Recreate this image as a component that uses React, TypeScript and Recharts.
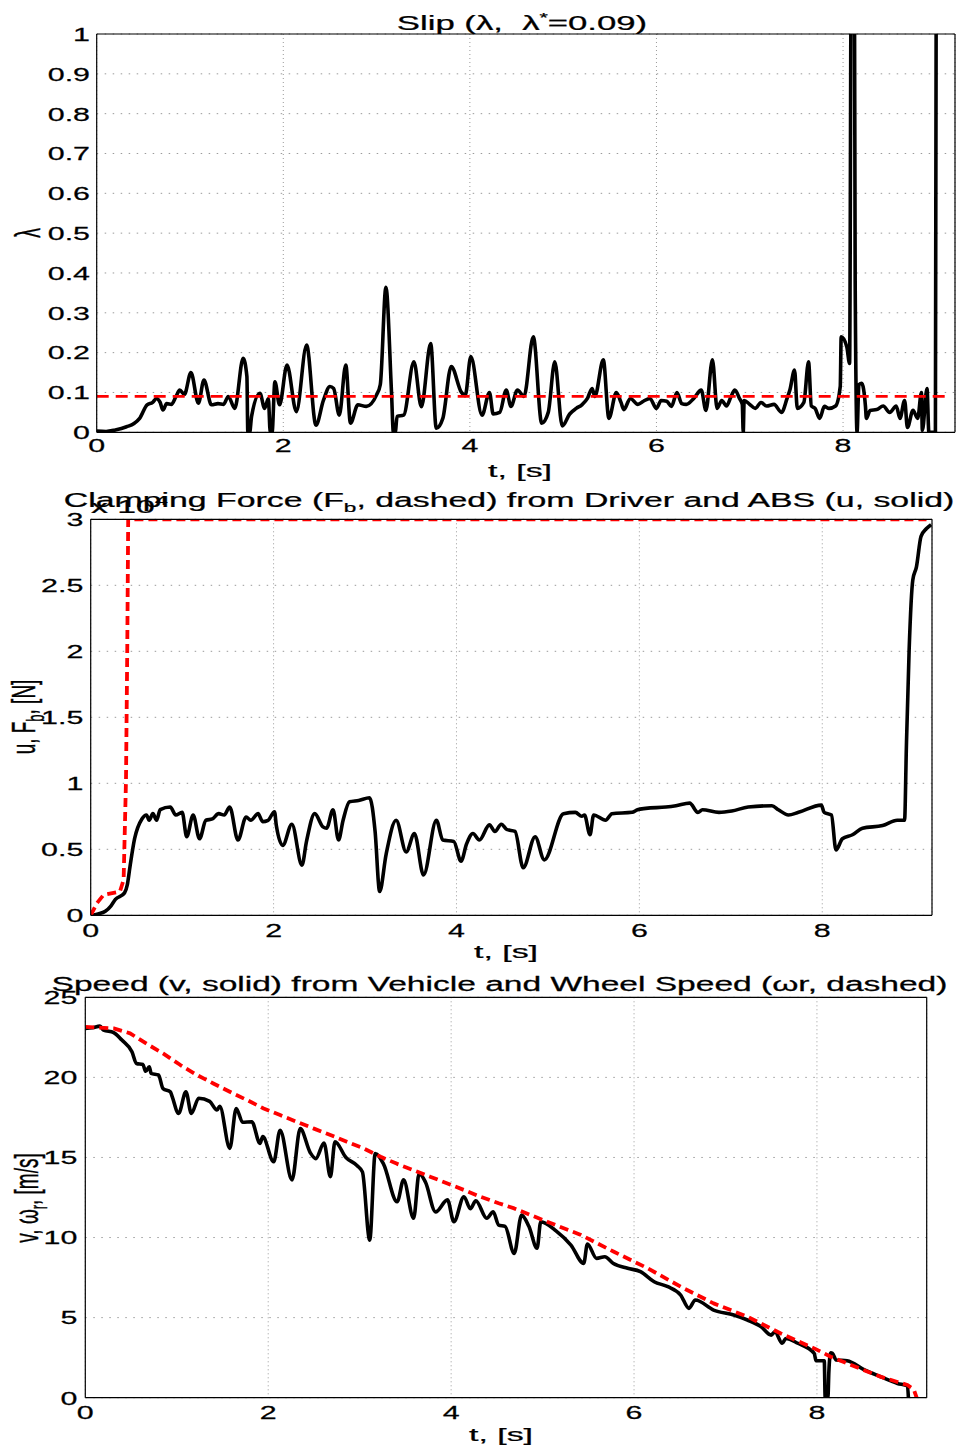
import React from 'react';
import { LineChart, Line, XAxis, YAxis, CartesianGrid } from 'recharts';

const FONT = '"Liberation Sans", Arial, Helvetica, sans-serif';
const FS = 19;
const FS_TITLE = 19.5;
const SX_TEXT = 1.78;
const SX_TICK = 1.6;

const timeTicks = [0, 2, 4, 6, 8];
const slipTicks = [0, 0.1, 0.2, 0.3, 0.4, 0.5, 0.6, 0.7, 0.8, 0.9, 1];
const forceTicks = [0, 5000, 10000, 15000, 20000, 25000, 30000];
const speedTicks = [0, 5, 10, 15, 20, 25];

// Slip lambda vs t
const slipSeries: [number, number][] = [
  [0, 0.003], [0.1, 0.002], [0.2, 0.006], [0.32, 0.014], [0.4, 0.022], [0.46, 0.035], [0.54, 0.069],
  [0.6, 0.075], [0.64, 0.085], [0.68, 0.075], [0.71, 0.056], [0.75, 0.072], [0.8, 0.07], [0.85, 0.09],
  [0.89, 0.106], [0.94, 0.095], [1.01, 0.15], [1.09, 0.073], [1.15, 0.131], [1.23, 0.069], [1.3, 0.072],
  [1.36, 0.07], [1.41, 0.09], [1.48, 0.06], [1.57, 0.186], [1.61, 0.14], [1.62, 0], [1.64, 0], [1.66, 0.04],
  [1.75, 0.098], [1.8, 0.06], [1.84, 0.085], [1.86, 0], [1.88, 0], [1.91, 0.127], [1.96, 0.069],
  [2.04, 0.169], [2.14, 0.052], [2.25, 0.219], [2.35, 0.018], [2.43, 0.08], [2.5, 0.115], [2.54, 0.11],
  [2.6, 0.043], [2.67, 0.169], [2.72, 0.023], [2.8, 0.069], [2.89, 0.065], [3.0, 0.094], [3.04, 0.12],
  [3.1, 0.364], [3.16, 0.1], [3.18, 0], [3.2, 0], [3.22, 0.04], [3.29, 0.043], [3.4, 0.177], [3.48, 0.064],
  [3.58, 0.223], [3.64, 0.01], [3.71, 0.035], [3.8, 0.165], [3.91, 0.1], [3.95, 0.092], [4.01, 0.19],
  [4.13, 0.043], [4.21, 0.1], [4.25, 0.046], [4.32, 0.05], [4.39, 0.106], [4.44, 0.065], [4.51, 0.106],
  [4.58, 0.09], [4.68, 0.24], [4.77, 0.023], [4.84, 0.05], [4.91, 0.177], [4.99, 0.016], [5.07, 0.046],
  [5.14, 0.06], [5.2, 0.069], [5.26, 0.085], [5.31, 0.11], [5.34, 0.09], [5.43, 0.182], [5.49, 0.035],
  [5.57, 0.1], [5.62, 0.075], [5.65, 0.057], [5.72, 0.085], [5.8, 0.07], [5.86, 0.078], [5.93, 0.085],
  [6.0, 0.06], [6.05, 0.08], [6.11, 0.078], [6.16, 0.065], [6.22, 0.1], [6.27, 0.072], [6.32, 0.07],
  [6.4, 0.085], [6.48, 0.106], [6.53, 0.055], [6.6, 0.182], [6.65, 0.06], [6.7, 0.08], [6.75, 0.066],
  [6.8, 0.09], [6.84, 0.106], [6.89, 0.085], [6.92, 0.07], [6.93, 0], [6.94, 0.08], [7.0, 0.07],
  [7.06, 0.06], [7.12, 0.075], [7.18, 0.066], [7.26, 0.07], [7.34, 0.05], [7.4, 0.085], [7.43, 0.106],
  [7.48, 0.156], [7.51, 0.06], [7.58, 0.075], [7.63, 0.177], [7.66, 0.066], [7.7, 0.06], [7.75, 0.035],
  [7.8, 0.065], [7.85, 0.06], [7.92, 0.066], [7.97, 0.115], [7.98, 0.24], [8.04, 0.215], [8.07, 0.173],
  [8.09, 1.3], [8.12, 1.3], [8.13, 0.38], [8.15, 0], [8.17, 0.12], [8.2, 0.123], [8.24, 0.066],
  [8.25, 0.035], [8.29, 0.055], [8.36, 0.057], [8.43, 0.066], [8.5, 0.05], [8.57, 0.066], [8.61, 0.035],
  [8.66, 0.08], [8.69, 0.012], [8.75, 0.055], [8.8, 0.035], [8.84, 0.1], [8.85, 0.005], [8.9, 0.11],
  [8.92, 0], [8.99, 0], [9.0, 1.3],
];
const slipTarget: [number, number][] = [[0, 0.09], [9.1, 0.09]];

// Clamping force [N]
const absForce: [number, number][] = [
  [0, 0], [0.08, 100], [0.16, 300], [0.22, 700], [0.27, 1200], [0.37, 1700], [0.4, 2300], [0.43, 3700],
  [0.48, 5800], [0.56, 7300], [0.61, 7600], [0.64, 7200], [0.68, 7700], [0.72, 7200], [0.76, 8000],
  [0.87, 8200], [0.93, 7600], [1.0, 7800], [1.05, 5950], [1.12, 7600], [1.19, 5800], [1.26, 7200],
  [1.33, 7300], [1.4, 7700], [1.46, 7600], [1.52, 8200], [1.61, 5700], [1.7, 7450], [1.75, 7200],
  [1.83, 7700], [1.88, 7100], [1.94, 7200], [2.01, 7850], [2.03, 6800], [2.1, 5300], [2.2, 6900],
  [2.31, 3800], [2.36, 5600], [2.45, 7700], [2.54, 6700], [2.58, 6600], [2.65, 8000], [2.71, 5700],
  [2.76, 7200], [2.83, 8600], [2.93, 8700], [3.05, 8900], [3.11, 6350], [3.16, 1800], [3.23, 4600],
  [3.34, 7200], [3.45, 4800], [3.54, 6200], [3.64, 3050], [3.78, 7200], [3.85, 5700], [3.97, 5600],
  [4.05, 4100], [4.11, 5400], [4.18, 6200], [4.25, 5700], [4.36, 6850], [4.42, 6350], [4.49, 6900],
  [4.55, 6500], [4.64, 6350], [4.73, 3600], [4.86, 5950], [4.96, 4200], [5.17, 7700], [5.3, 7800],
  [5.37, 7500], [5.4, 7600], [5.46, 6100], [5.5, 7600], [5.63, 7200], [5.7, 7700], [5.92, 7800],
  [5.98, 8000], [6.07, 8100], [6.29, 8200], [6.4, 8300], [6.55, 8500], [6.64, 7800], [6.69, 8000],
  [6.87, 7800], [7.01, 7900], [7.19, 8200], [7.45, 8300], [7.52, 8000], [7.63, 7600], [7.74, 7800],
  [7.99, 8350], [8.02, 7800], [8.1, 7600], [8.15, 4950], [8.22, 5800], [8.33, 6100], [8.44, 6600],
  [8.66, 6800], [8.82, 7200], [8.9, 7200], [8.92, 12800], [8.95, 20100], [8.99, 25400], [9.03, 26400],
  [9.08, 28700], [9.14, 29300], [9.19, 29600],
];
const driverForce: [number, number][] = [
  [0, 0], [0.066, 900], [0.14, 1540], [0.32, 1800], [0.36, 2700], [0.386, 10250], [0.4, 20300],
  [0.41, 30000], [9.14, 30000],
];

// Speeds [m/s]
const vehicleSpeed: [number, number][] = [
  [0, 23.06], [0.08, 23.1], [0.16, 23.2], [0.2, 22.95], [0.31, 22.8], [0.4, 22.33], [0.51, 21.6],
  [0.56, 20.87], [0.63, 20.8], [0.66, 20.38], [0.7, 20.66], [0.72, 20.25], [0.8, 20.15], [0.85, 19.3],
  [0.93, 19.1], [0.95, 18.8], [1.02, 17.75], [1.1, 19.1], [1.16, 17.75], [1.24, 18.7], [1.36, 18.5],
  [1.44, 17.96], [1.47, 18.2], [1.58, 15.57], [1.65, 18.06], [1.72, 17.2], [1.82, 17.23], [1.91, 15.88],
  [1.94, 16.3], [2.06, 14.73], [2.13, 16.7], [2.26, 13.6], [2.35, 16.8], [2.46, 15.3], [2.52, 14.93],
  [2.61, 15.9], [2.68, 13.8], [2.73, 15.98], [2.85, 15.0], [2.97, 14.5], [3.03, 14.1], [3.11, 9.84],
  [3.17, 15.25], [3.26, 14.6], [3.41, 12.23], [3.48, 13.6], [3.59, 11.2], [3.65, 14.0], [3.72, 13.45],
  [3.83, 11.6], [3.96, 12.35], [4.03, 10.99], [4.14, 12.55], [4.21, 11.8], [4.27, 12.3], [4.39, 11.2],
  [4.46, 11.6], [4.52, 10.78], [4.59, 10.7], [4.69, 9.0], [4.77, 11.4], [4.85, 10.7], [4.94, 9.33],
  [4.98, 10.99], [5.15, 10.4], [5.31, 9.53], [5.45, 8.39], [5.49, 9.6], [5.59, 8.7], [5.68, 8.8],
  [5.77, 8.4], [5.93, 8.08], [6.07, 7.87], [6.22, 7.24], [6.37, 6.93], [6.51, 6.41], [6.6, 5.58],
  [6.67, 6.1], [6.87, 5.47], [7.09, 5.16], [7.24, 4.85], [7.39, 4.43], [7.5, 3.91], [7.54, 4.12],
  [7.62, 3.4], [7.66, 3.7], [7.79, 3.4], [7.97, 2.77], [7.99, 2.31], [8.08, 2.31], [8.09, 0], [8.12, 0],
  [8.13, 1.6], [8.15, 2.8], [8.17, 2.77], [8.21, 2.35], [8.33, 2.31], [8.52, 1.73], [8.7, 1.3],
  [8.88, 0.89], [8.99, 0.73], [9.0, 0],
];
const wheelSpeed: [number, number][] = [
  [0, 23.15], [0.31, 23.06], [0.49, 22.75], [0.67, 22.1], [0.85, 21.5], [1.04, 20.77], [1.22, 20.15],
  [1.4, 19.62], [1.58, 19.1], [1.77, 18.58], [1.95, 18.06], [2.13, 17.65], [2.31, 17.23], [2.5, 16.8],
  [2.68, 16.4], [2.86, 15.98], [3.04, 15.57], [3.23, 15.04], [3.41, 14.6], [3.59, 14.2], [3.77, 13.8],
  [3.96, 13.38], [4.14, 12.97], [4.32, 12.55], [4.52, 12.14], [4.69, 11.82], [5.05, 10.99],
  [5.42, 10.16], [5.78, 9.11], [6.15, 8.08], [6.51, 6.93], [6.87, 5.89], [7.24, 5.06], [7.6, 4.02],
  [7.97, 3.08], [8.15, 2.56], [8.33, 2.14], [8.7, 1.3], [8.99, 0.79], [9.06, 0.5], [9.09, 0],
];

const toPts = (a: [number, number][]) => a.map(([t, v]) => ({ t, v }));

type SeriesDef = { data: [number, number][]; color: string; width: number; dash?: string; smooth?: boolean };

type PanelProps = {
  top: number;
  height: number;
  plotLeft: number;
  plotTop: number;
  plotRight: number;
  plotBottom: number;
  yDomain: [number, number];
  yTicks: number[];
  yFmt: (v: number) => string;
  yGap: number;
  xGap: number;
  series: SeriesDef[];
};

const YTick = (props: any) => {
  const { x, y, payload, fmt } = props;
  return (
    <text
      transform={`translate(${x},${y}) scale(${SX_TICK},1)`}
      textAnchor="end"
      dy="0.36em"
      fontSize={FS}
      fontFamily={FONT}
      fill="#000"
      stroke="#000"
      strokeWidth={0.25}
    >
      {fmt(payload.value)}
    </text>
  );
};

const XTick = (props: any) => {
  const { x, y, payload } = props;
  return (
    <text
      transform={`translate(${x},${y}) scale(${SX_TICK},1)`}
      textAnchor="middle"
      dy="0.36em"
      fontSize={FS}
      fontFamily={FONT}
      fill="#000"
      stroke="#000"
      strokeWidth={0.25}
    >
      {String(payload.value)}
    </text>
  );
};

const Panel = (p: PanelProps) => {
  const W = 959;
  const margin = { top: p.plotTop - p.top, right: W - p.plotRight, left: 0, bottom: 0 };
  const xH = p.top + p.height - p.plotBottom;
  const xDomain: [number, number] = [0, 9.2];
  return (
    <div style={{ position: 'absolute', left: 0, top: p.top, width: W, height: p.height }}>
      <LineChart width={W} height={p.height} margin={margin}>
        <CartesianGrid horizontal={true} vertical={false} stroke="#9a9a9a" strokeDasharray="1.5 6.5" />
        <CartesianGrid horizontal={false} vertical={true} stroke="#9a9a9a" strokeDasharray="1 3" />
        <XAxis
          dataKey="t"
          type="number"
          domain={xDomain}
          ticks={timeTicks}
          interval={0}
          allowDataOverflow
          height={xH}
          tickSize={0}
          tickMargin={p.xGap}
          tickLine={false}
          axisLine={{ stroke: '#000', strokeWidth: 1.2 }}
          tick={<XTick />}
        />
        <XAxis
          xAxisId="bt"
          dataKey="t"
          type="number"
          domain={xDomain}
          ticks={timeTicks}
          interval={0}
          allowDataOverflow
          mirror
          tick={false}
          tickSize={5}
          axisLine={false}
          tickLine={{ stroke: '#000', strokeWidth: 1 }}
          height={10}
        />
        <XAxis
          xAxisId="tt"
          orientation="top"
          dataKey="t"
          type="number"
          domain={xDomain}
          ticks={timeTicks}
          interval={0}
          allowDataOverflow
          mirror
          tick={false}
          tickSize={5}
          axisLine={{ stroke: '#000', strokeWidth: 1.2 }}
          tickLine={{ stroke: '#000', strokeWidth: 1 }}
          height={10}
        />
        <YAxis
          type="number"
          domain={p.yDomain}
          ticks={p.yTicks}
          interval={0}
          allowDataOverflow
          width={p.plotLeft}
          tickSize={0}
          tickMargin={p.yGap}
          tickLine={false}
          axisLine={{ stroke: '#000', strokeWidth: 1.2 }}
          tick={<YTick fmt={p.yFmt} />}
        />
        <YAxis
          yAxisId="lt"
          type="number"
          domain={p.yDomain}
          ticks={p.yTicks}
          interval={0}
          allowDataOverflow
          mirror
          tick={false}
          tickSize={8}
          axisLine={false}
          tickLine={{ stroke: '#000', strokeWidth: 1 }}
          width={10}
        />
        <YAxis
          yAxisId="rt"
          orientation="right"
          type="number"
          domain={p.yDomain}
          ticks={p.yTicks}
          interval={0}
          allowDataOverflow
          mirror
          tick={false}
          tickSize={8}
          axisLine={{ stroke: '#000', strokeWidth: 1.2 }}
          tickLine={{ stroke: '#000', strokeWidth: 1 }}
          width={10}
        />
        {p.series.map((s, i) => (
          <Line
            key={i}
            data={toPts(s.data)}
            dataKey="v"
            type={s.smooth ? 'monotone' : 'linear'}
            stroke={s.color}
            strokeWidth={s.width}
            strokeDasharray={s.dash}
            strokeLinejoin="round"
            dot={false}
            activeDot={false}
            isAnimationActive={false}
          />
        ))}
      </LineChart>
    </div>
  );
};

const fmtSlip = (v: number) => (v === 0 ? '0' : v === 1 ? '1' : String(Math.round(v * 10) / 10));
const fmtForce = (v: number) => String(v / 10000);
const fmtSpeed = (v: number) => String(v);

const T = (props: any) => {
  const { x, y, anchor = 'middle', rotate = false, children, sx = SX_TEXT, fs = FS } = props;
  return (
    <text
      transform={`translate(${x},${y}) scale(${sx},1)${rotate ? ' rotate(-90)' : ''}`}
      textAnchor={anchor}
      fontSize={fs}
      fontFamily={FONT}
      fill="#000"
      stroke="#000"
      strokeWidth={0.25}
      style={{ whiteSpace: 'pre' }}
    >
      {children}
    </text>
  );
};

const Labels = () => (
  <svg
    width={959}
    height={1450}
    style={{ position: 'absolute', left: 0, top: 0, pointerEvents: 'none', overflow: 'visible' }}
  >
    {/* Panel 1 */}
    <T x={522} y={29.5} fs={FS_TITLE}>
      {'Slip (λ,  λ'}
      <tspan dy={-8} fontSize={12}>*</tspan>
      <tspan dy={8}>=0.09)</tspan>
    </T>
    <T x={40} y={233} rotate fs={20}>λ</T>
    <T x={520} y={476.5}>t, [s]</T>

    {/* Panel 2 */}
    <T x={509} y={507} sx={1.735} fs={FS_TITLE}>
      {'Clamping Force (F'}
      <tspan dy={5} fontSize={13}>b</tspan>
      <tspan dy={-5}>, dashed) from Driver and ABS (u, solid)</tspan>
    </T>
    <T x={91} y={513} anchor="start">
      {'x 10'}
      <tspan dy={-8} fontSize={13}>4</tspan>
    </T>
    <T x={35} y={717} rotate>
      {'u, F'}
      <tspan dy={5} fontSize={13}>b</tspan>
      <tspan dy={-5}>, [N]</tspan>
    </T>
    <T x={506} y={958}>t, [s]</T>

    {/* Panel 3 */}
    <T x={499.5} y={990.5} sx={1.72} fs={FS_TITLE}>Speed (v, solid) from Vehicle and Wheel Speed (ωr, dashed)</T>
    <T x={38} y={1198} rotate>
      {'v, ω'}
      <tspan dy={5} fontSize={13}>r</tspan>
      <tspan dy={-5}>, [m/s]</tspan>
    </T>
    <T x={501} y={1441}>t, [s]</T>
  </svg>
);

export default function App() {
  return (
    <div style={{ position: 'absolute', left: 0, top: 0, width: 959, height: 1450, overflow: 'hidden' }}>
      <Panel
        top={0}
        height={480}
        plotLeft={96.7}
        plotTop={34}
        plotRight={955}
        plotBottom={432.3}
        yDomain={[0, 1]}
        yTicks={slipTicks}
        yFmt={fmtSlip}
        yGap={6.7}
        xGap={12.7}
        series={[
          { data: slipSeries, color: '#000000', width: 3.6, smooth: true },
          { data: slipTarget, color: '#ff0000', width: 2.8, dash: '12 7' },
        ]}
      />
      <Panel
        top={480}
        height={490}
        plotLeft={90.7}
        plotTop={519.3}
        plotRight={932}
        plotBottom={915.3}
        yDomain={[0, 30000]}
        yTicks={forceTicks}
        yFmt={fmtForce}
        yGap={7.4}
        xGap={14.7}
        series={[
          { data: absForce, color: '#000000', width: 3.6, smooth: true },
          { data: driverForce, color: '#ff0000', width: 3.8, dash: '9 5' },
        ]}
      />
      <Panel
        top={970}
        height={480}
        plotLeft={85.3}
        plotTop={997.3}
        plotRight={926.7}
        plotBottom={1397.7}
        yDomain={[0, 25]}
        yTicks={speedTicks}
        yFmt={fmtSpeed}
        yGap={8}
        xGap={14.3}
        series={[
          { data: vehicleSpeed, color: '#000000', width: 3.6, smooth: true },
          { data: wheelSpeed, color: '#ff0000', width: 3.8, dash: '9 5' },
        ]}
      />
      <Labels />
    </div>
  );
}
